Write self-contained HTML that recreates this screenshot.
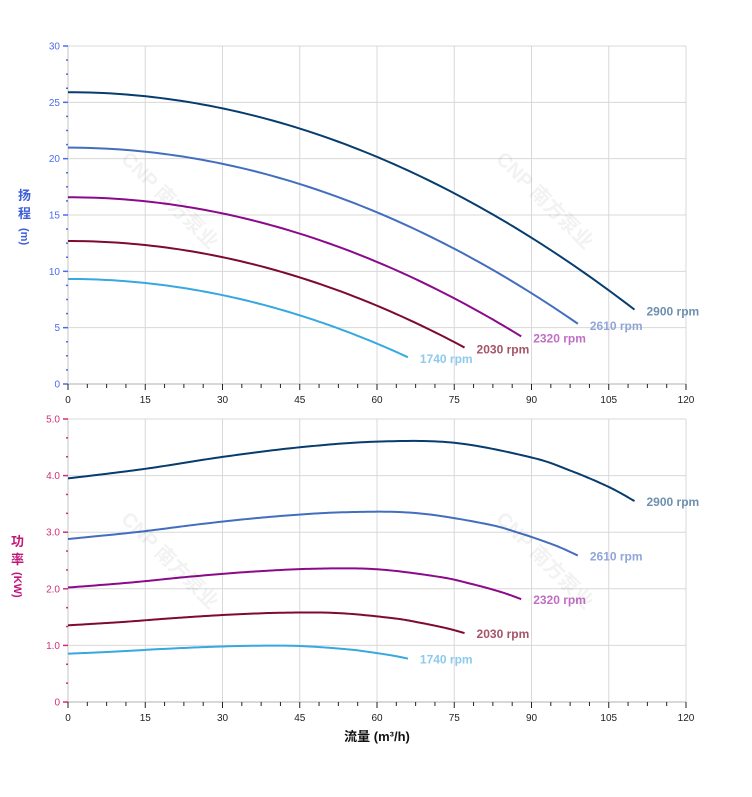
<!DOCTYPE html>
<html><head><meta charset="utf-8"><style>
html,body{margin:0;padding:0;background:#fff;width:752px;height:797px;overflow:hidden}
svg text{font-family:"Liberation Sans","Noto Sans CJK SC",sans-serif}
</style></head><body>
<svg id="s" width="752" height="797" xmlns="http://www.w3.org/2000/svg">
<g id="g"></g>
<text x="0" y="0" font-size="20" font-weight="bold" fill="#000" fill-opacity="0.05" transform="translate(120,160) rotate(45)">CNP 南方泵业</text>
<text x="0" y="0" font-size="20" font-weight="bold" fill="#000" fill-opacity="0.05" transform="translate(495,160) rotate(45)">CNP 南方泵业</text>
<text x="0" y="0" font-size="20" font-weight="bold" fill="#000" fill-opacity="0.05" transform="translate(120,520) rotate(45)">CNP 南方泵业</text>
<text x="0" y="0" font-size="20" font-weight="bold" fill="#000" fill-opacity="0.05" transform="translate(495,520) rotate(45)">CNP 南方泵业</text>
<text x="18" y="200" font-size="13" font-weight="bold" fill="#3d5fd8">扬</text>
<text x="18" y="218" font-size="13" font-weight="bold" fill="#3d5fd8">程</text>
<text x="0" y="0" font-size="11" font-weight="bold" fill="#3d5fd8" transform="translate(21,228) rotate(90)">(m)</text>
<text x="11" y="546" font-size="13" font-weight="bold" fill="#c0187a">功</text>
<text x="11" y="564" font-size="13" font-weight="bold" fill="#c0187a">率</text>
<text x="0" y="0" font-size="11" font-weight="bold" fill="#c0187a" transform="translate(14,572) rotate(90)">(KW)</text>
<text x="377" y="741" font-size="13" font-weight="bold" fill="#111" text-anchor="middle">流量 (m³/h)</text>
</svg>
<script>
var g=document.getElementById('g');var h='';
var X0=68,XS=(686-68)/120;
function X(q){return X0+q*XS}
function panel(top,bot,ymax,step,minor,fmt,col){
 var ys=(bot-top)/ymax;
 for(var q=15;q<=120;q+=15)h+='<line x1="'+X(q)+'" y1="'+top+'" x2="'+X(q)+'" y2="'+bot+'" stroke="#d8d8d8" stroke-width="1"/>';
 for(var v=step;v<=ymax+1e-9;v+=step){var y=bot-v*ys;h+='<line x1="'+X0+'" y1="'+y+'" x2="686" y2="'+y+'" stroke="#d8d8d8" stroke-width="1"/>';}
 h+='<line x1="'+X0+'" y1="'+top+'" x2="'+X0+'" y2="'+bot+'" stroke="#d8d8d8" stroke-width="1.5"/>';
 for(var v=0;v<=ymax+1e-9;v+=minor){var y=bot-v*ys;var maj=Math.abs(v/step-Math.round(v/step))<1e-6;
  h+='<line x1="'+(X0-(maj?5:2))+'" y1="'+y+'" x2="'+X0+'" y2="'+y+'" stroke="'+col+'" stroke-width="1.5"/>';
  if(maj)h+='<text x="'+(X0-8)+'" y="'+(y+3.5)+'" font-size="10" fill="'+col+'" text-anchor="end">'+fmt(v)+'</text>';}
 h+='<line x1="'+X0+'" y1="'+bot+'" x2="686" y2="'+bot+'" stroke="#ccc" stroke-width="1.5"/>';
 for(var i=0;i<=32;i++){var q=i*3.75;var maj=i%4==0;h+='<line x1="'+X(q)+'" y1="'+bot+'" x2="'+X(q)+'" y2="'+(bot+(maj?6:4))+'" stroke="#222" stroke-width="1"/>';
  if(maj)h+='<text x="'+X(q)+'" y="'+(bot+19)+'" font-size="10" fill="#222" text-anchor="middle">'+q+'</text>';}
 return ys;
}
var hs=panel(46,384,30,5,1.25,function(v){return v},'#4a6cf0');
var ps=panel(419,702,5,1,1/3,function(v){return v==0?'0':v.toFixed(1)},'#d0307a');
var sp=[[2900,'#063d6e','#6e8fb0'],[2610,'#436ebf','#90a6d8'],[2320,'#8b0a8b','#c06ec4'],[2030,'#7e0a30','#a55468'],[1740,'#38a8e0','#8ccaee']];
var pp=[[0,3.95],[15,4.12],[30,4.33],[45,4.5],[60,4.6],[75,4.58],[90,4.32],[97.5,4.09],[105,3.80],[110,3.55]];
function cr(pts,t){
 var n=pts.length-1;var i=Math.min(Math.floor(t),n-1);var u=t-i;
 var p0=pts[Math.max(i-1,0)],p1=pts[i],p2=pts[i+1],p3=pts[Math.min(i+2,n)];
 function f(a,b,c,d){return 0.5*((2*b)+(-a+c)*u+(2*a-5*b+4*c-d)*u*u+(-a+3*b-3*c+d)*u*u*u)}
 return [f(p0[0],p1[0],p2[0],p3[0]),f(p0[1],p1[1],p2[1],p3[1])];
}
sp.forEach(function(s){
 var r=s[0]/2900,qm=110*r;
 var d='';for(var i=0;i<=80;i++){var q=qm*i/80;var H=(25.9-0.001595*(q/r)*(q/r))*r*r;d+=(i?'L':'M')+X(q).toFixed(2)+','+(384-H*hs).toFixed(2);}
 h+='<path d="'+d+'" fill="none" stroke="'+s[1]+'" stroke-width="2"/>';
 var He=(25.9-0.001595*110*110)*r*r;
 h+='<text x="'+(X(qm)+12)+'" y="'+(384-He*hs+6)+'" font-size="12" font-weight="bold" fill="'+s[2]+'">'+s[0]+' rpm</text>';
 d='';var n=pp.length-1;for(var i=0;i<=180;i++){var p=cr(pp,n*i/180);d+=(i?'L':'M')+X(p[0]*r).toFixed(2)+','+(702-p[1]*r*r*r*ps).toFixed(2);}
 h+='<path d="'+d+'" fill="none" stroke="'+s[1]+'" stroke-width="2"/>';
 h+='<text x="'+(X(qm)+12)+'" y="'+(702-3.55*r*r*r*ps+5)+'" font-size="12" font-weight="bold" fill="'+s[2]+'">'+s[0]+' rpm</text>';
});
g.innerHTML=h;
</script>
</body></html>
